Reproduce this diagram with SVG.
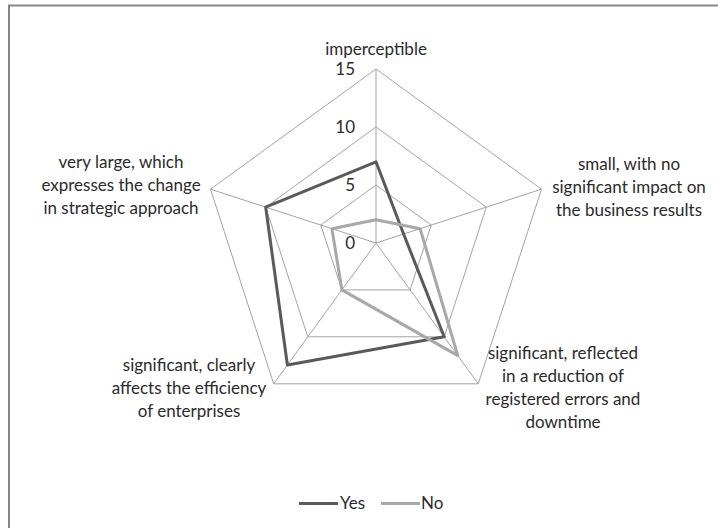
<svg xmlns="http://www.w3.org/2000/svg" width="718" height="528" viewBox="0 0 718 528">
<style>
  .grid { fill: none; stroke: #a3a3a3; stroke-width: 1; }
  .lbl { font-family: "Lato", "Liberation Sans", sans-serif; font-size: 17px; fill: #2b2b2b; text-anchor: middle; }
  .tick { font-family: "Lato", "Liberation Sans", sans-serif; font-size: 17px; fill: #2b2b2b; text-anchor: end; }
  .leg { font-family: "Lato", "Liberation Sans", sans-serif; font-size: 17px; fill: #2b2b2b; }
  .yes { fill: none; stroke: #5a5a5a; stroke-width: 3; stroke-linejoin: round; }
  .no { fill: none; stroke: #a8a8a8; stroke-width: 3; stroke-linejoin: round; }
</style>
<rect x="0" y="0" width="718" height="528" fill="#ffffff"/>
<rect x="9" y="5.5" width="800" height="600" fill="none" stroke="#878787" stroke-width="2"/>
<g id="grid">
  <polygon class="grid" points="376,69 541.5,189.2 478.3,383.8 273.7,383.8 210.5,189.2"/>
  <polygon class="grid" points="376,127 486.3,207.2 444.2,336.8 307.8,336.8 265.7,207.2"/>
  <polygon class="grid" points="376,185 431.2,225.1 410.1,289.9 341.9,289.9 320.8,225.1"/>
  <line class="grid" x1="376" y1="243" x2="376" y2="69"/>
  <line class="grid" x1="376" y1="243" x2="541.5" y2="189.2"/>
  <line class="grid" x1="376" y1="243" x2="478.3" y2="383.8"/>
  <line class="grid" x1="376" y1="243" x2="273.7" y2="383.8"/>
  <line class="grid" x1="376" y1="243" x2="210.5" y2="189.2"/>
</g>
<g id="ticks">
  <text class="tick" x="355" y="75">15</text>
  <text class="tick" x="355" y="133">10</text>
  <text class="tick" x="355" y="191">5</text>
  <text class="tick" x="355" y="249">0</text>
</g>
<g id="connectors">
  <polygon id="series-yes" class="yes" points="376,161.8 403.6,234 444.2,336.8 287.4,365 265.7,207.2"/>
  <polygon id="series-no" class="no" points="376,219.8 420.1,228.7 457.8,355.6 341.9,289.9 331.9,228.7"/>
</g>
<g id="axis-top">
  <text class="lbl" x="376" y="55">imperceptible</text>
</g>
<g id="axis-right">
  <text class="lbl" x="629" y="170">small, with no</text>
  <text class="lbl" x="629" y="193">significant impact on</text>
  <text class="lbl" x="629" y="216">the business results</text>
</g>
<g id="axis-lower-right">
  <text class="lbl" x="563" y="359">significant, reflected</text>
  <text class="lbl" x="563" y="382">in a reduction of</text>
  <text class="lbl" x="563" y="405">registered errors and</text>
  <text class="lbl" x="563" y="428">downtime</text>
</g>
<g id="axis-lower-left">
  <text class="lbl" x="189" y="371">significant, clearly</text>
  <text class="lbl" x="189" y="394">affects the efficiency</text>
  <text class="lbl" x="189" y="417">of enterprises</text>
</g>
<g id="axis-left">
  <text class="lbl" x="121" y="168">very large, which</text>
  <text class="lbl" x="121" y="191">expresses the change</text>
  <text class="lbl" x="121" y="214">in strategic approach</text>
</g>
<g id="legend">
  <line x1="299" y1="503.5" x2="338" y2="503.5" stroke="#5a5a5a" stroke-width="3"/>
  <text class="leg" x="340" y="509">Yes</text>
  <line x1="381" y1="503.5" x2="420" y2="503.5" stroke="#a8a8a8" stroke-width="3"/>
  <text class="leg" x="421" y="509">No</text>
</g>
</svg>
